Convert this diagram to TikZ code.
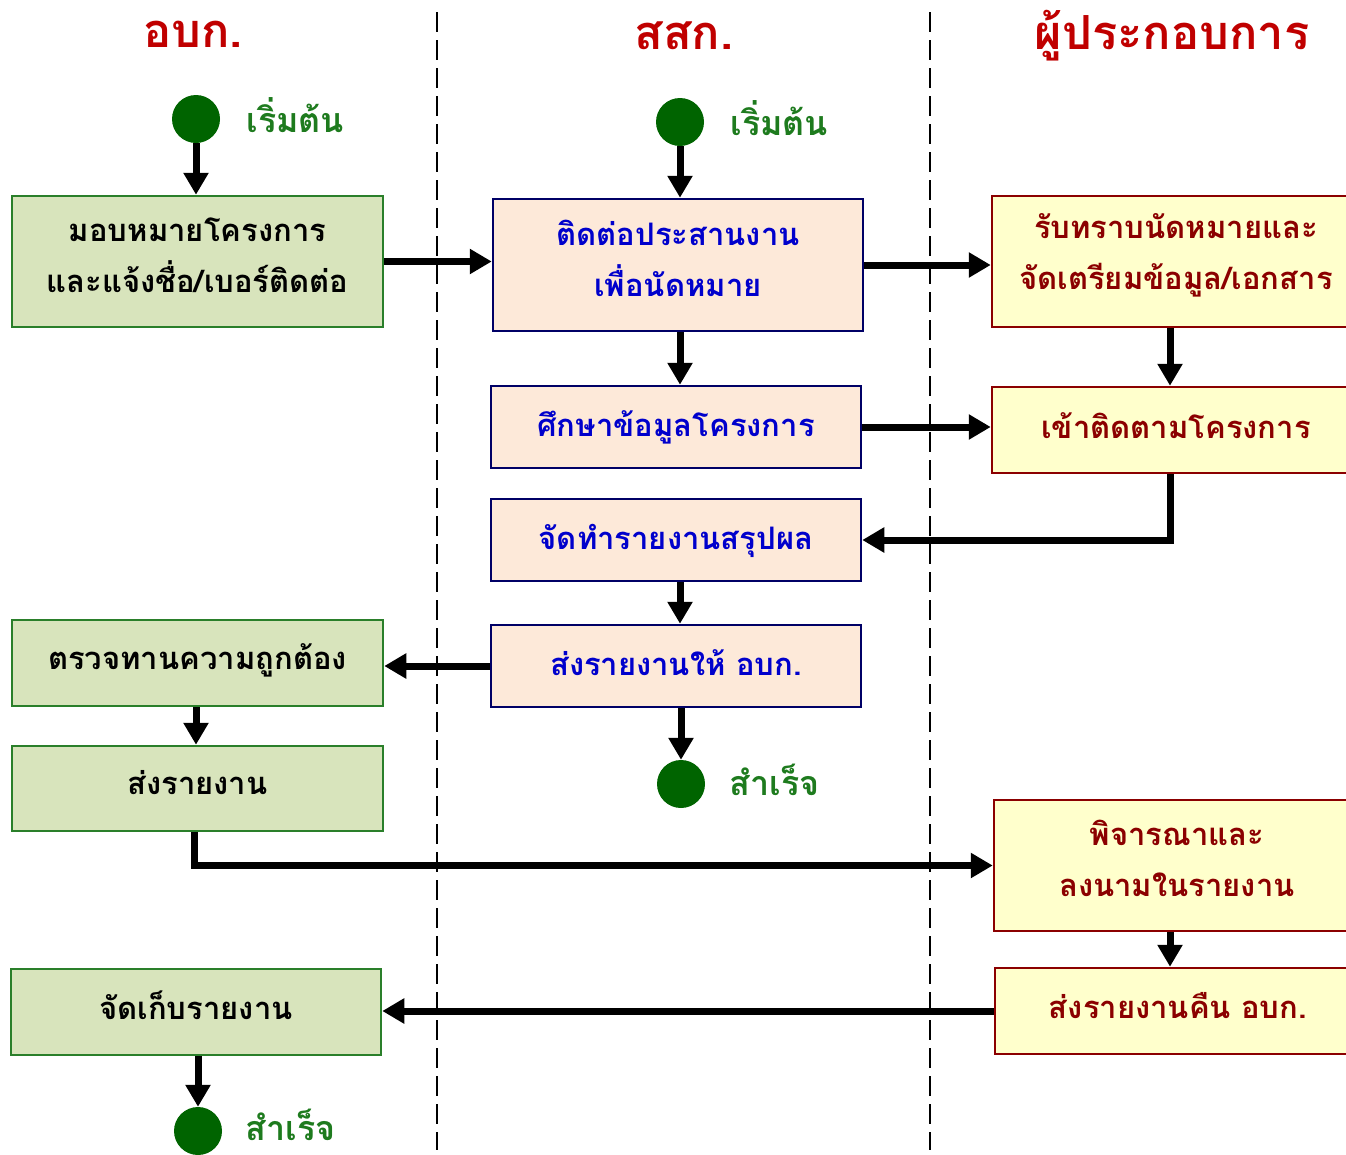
\documentclass[tikz,border=0pt]{standalone}
\usepackage{fontspec}
\newfontfamily\thai[Script=Thai]{Loma}
\usetikzlibrary{arrows.meta}
\definecolor{hdrred}{HTML}{C00000}
\definecolor{lblgreen}{HTML}{1E7B1E}
\definecolor{dotgreen}{HTML}{006400}
\definecolor{gfill}{HTML}{D8E4BC}
\definecolor{gdraw}{HTML}{2A7F2A}
\definecolor{bfill}{HTML}{FDE9D9}
\definecolor{bdraw}{HTML}{000066}
\definecolor{btext}{HTML}{0000CC}
\definecolor{cfill}{HTML}{FFFFCC}
\definecolor{cdraw}{HTML}{8B0000}
\tikzset{
  base/.style={rectangle, line width=2.5pt, inner sep=0pt},
  gbox/.style={base, fill=gfill, draw=gdraw},
  bbox/.style={base, fill=bfill, draw=bdraw},
  cbox/.style={base, fill=cfill, draw=cdraw},
  txt/.style={inner sep=0pt, align=center, font=\thai\bfseries\fontsize{31}{51}\selectfont},
  gtxt/.style={txt, text=black},
  btxt/.style={txt, text=btext},
  ctxt/.style={txt, text=cdraw},
  dot/.style={circle, fill=dotgreen, minimum size=48pt, inner sep=0pt},
  dotlbl/.style={anchor=west, text=lblgreen, font=\thai\bfseries\fontsize{34}{40}\selectfont},
  hdr/.style={text=hdrred, font=\thai\bfseries\fontsize{47}{56}\selectfont},
  flow/.style={line width=7pt, -{Triangle[width=24pt,length=22pt]}},
  lane/.style={line width=2.5pt, dash pattern=on 20pt off 8pt}
}
\begin{document}
\begin{tikzpicture}[x=1pt,y=-1pt]
\clip (0,0) rectangle (1346,1154);
\useasboundingbox (0,0) rectangle (1346,1154);
\fill[white] (0,0) rectangle (1346,1154);
% lanes
\draw[lane] (437,12) -- (437,1150);
\draw[lane] (930,12) -- (930,1150);
% headers
\node[hdr] (h1) at (193,34) {อบก.};
\node[hdr] (h2) at (684,36) {สสก.};
\node[hdr] (h3) at (1172,36) {ผู้ประกอบการ};
% start / end dots
\node[dot] (s1) at (196,119) {};
\node[dotlbl] (s1l) at (243,115) {เริ่มต้น};
\node[dot] (s2) at (680,122) {};
\node[dotlbl] (s2l) at (727,118) {เริ่มต้น};
\node[dot] (e2) at (681,784) {};
\node[dotlbl] (e2l) at (726,780) {สำเร็จ};
\node[dot] (e1) at (198,1131) {};
\node[dotlbl] (e1l) at (242,1125) {สำเร็จ};
% left lane
\node[gbox, minimum width=371pt, minimum height=131pt] (a1) at (197.5,261.5) {};
\node[gtxt] (a1t) at (197.5,255) {มอบหมายโครงการ\\และแจ้งชื่อ/เบอร์ติดต่อ};
\node[gbox, minimum width=371pt, minimum height=86pt] (a2) at (197.5,663) {};
\node[gtxt] (a2t) at (197.5,660) {ตรวจทานความถูกต้อง};
\node[gbox, minimum width=371pt, minimum height=85pt] (a3) at (197.5,788.5) {};
\node[gtxt] (a3t) at (197.5,782.5) {ส่งรายงาน};
\node[gbox, minimum width=370pt, minimum height=86pt] (a4) at (196,1012) {};
\node[gtxt] (a4t) at (196,1005.5) {จัดเก็บรายงาน};
% middle lane
\node[bbox, minimum width=370pt, minimum height=132pt] (b1) at (678,265) {};
\node[btxt] (b1t) at (678,258) {ติดต่อประสานงาน\\เพื่อนัดหมาย};
\node[bbox, minimum width=370pt, minimum height=82pt] (b2) at (676,427) {};
\node[btxt] (b2t) at (676,427) {ศึกษาข้อมูลโครงการ};
\node[bbox, minimum width=370pt, minimum height=82pt] (b3) at (676,540) {};
\node[btxt] (b3t) at (676,541) {จัดทำรายงานสรุปผล};
\node[bbox, minimum width=370pt, minimum height=82pt] (b4) at (676,666) {};
\node[btxt] (b4t) at (676,663) {ส่งรายงานให้ อบก.};
% right lane
\node[cbox, minimum width=368pt, minimum height=131pt] (c1) at (1176,261.5) {};
\node[ctxt] (c1t) at (1176,255) {รับทราบนัดหมายและ\\จัดเตรียมข้อมูล/เอกสาร};
\node[cbox, minimum width=368pt, minimum height=86pt] (c2) at (1176,430) {};
\node[ctxt] (c2t) at (1176,425.5) {เข้าติดตามโครงการ};
\node[cbox, minimum width=366pt, minimum height=131pt] (c3) at (1177,865.5) {};
\node[ctxt] (c3t) at (1177,858) {พิจารณาและ\\ลงนามในรายงาน};
\node[cbox, minimum width=366pt, minimum height=86pt] (c4) at (1178,1011) {};
\node[ctxt] (c4t) at (1178,1006) {ส่งรายงานคืน อบก.};
% connectors
\draw[flow] (s1.south) -- (a1.north -| s1.south);
\draw[flow] (s2.south) -- (b1.north -| s2.south);
\draw[flow] (a1.east) -- (b1.west |- a1.east);
\draw[flow] (b1.east) -- (c1.west |- b1.east);
\draw[flow] (b1.south -| s2) -- (b2.north -| s2);
\draw[flow] (c1.south -| 1170,0) -- (c2.north -| 1170,0);
\draw[flow] (b2.east) -- (c2.west |- b2.east);
\draw[flow] (c2.south -| 1170,0) |- (b3.east);
\draw[flow] (b3.south -| s2) -- (b4.north -| s2);
\draw[flow] (b4.west) -- (a2.east |- b4.west);
\draw[flow] (b4.south -| e2) -- (e2.north);
\draw[flow] (a2.south -| s1) -- (a3.north -| s1);
\draw[flow] (a3.south -| 194,0) |- (c3.west);
\draw[flow] (c3.south -| 1170,0) -- (c4.north -| 1170,0);
\draw[flow] (c4.west) -- (a4.east |- c4.west);
\draw[flow] (a4.south -| e1) -- (e1.north);
\end{tikzpicture}
\end{document}
